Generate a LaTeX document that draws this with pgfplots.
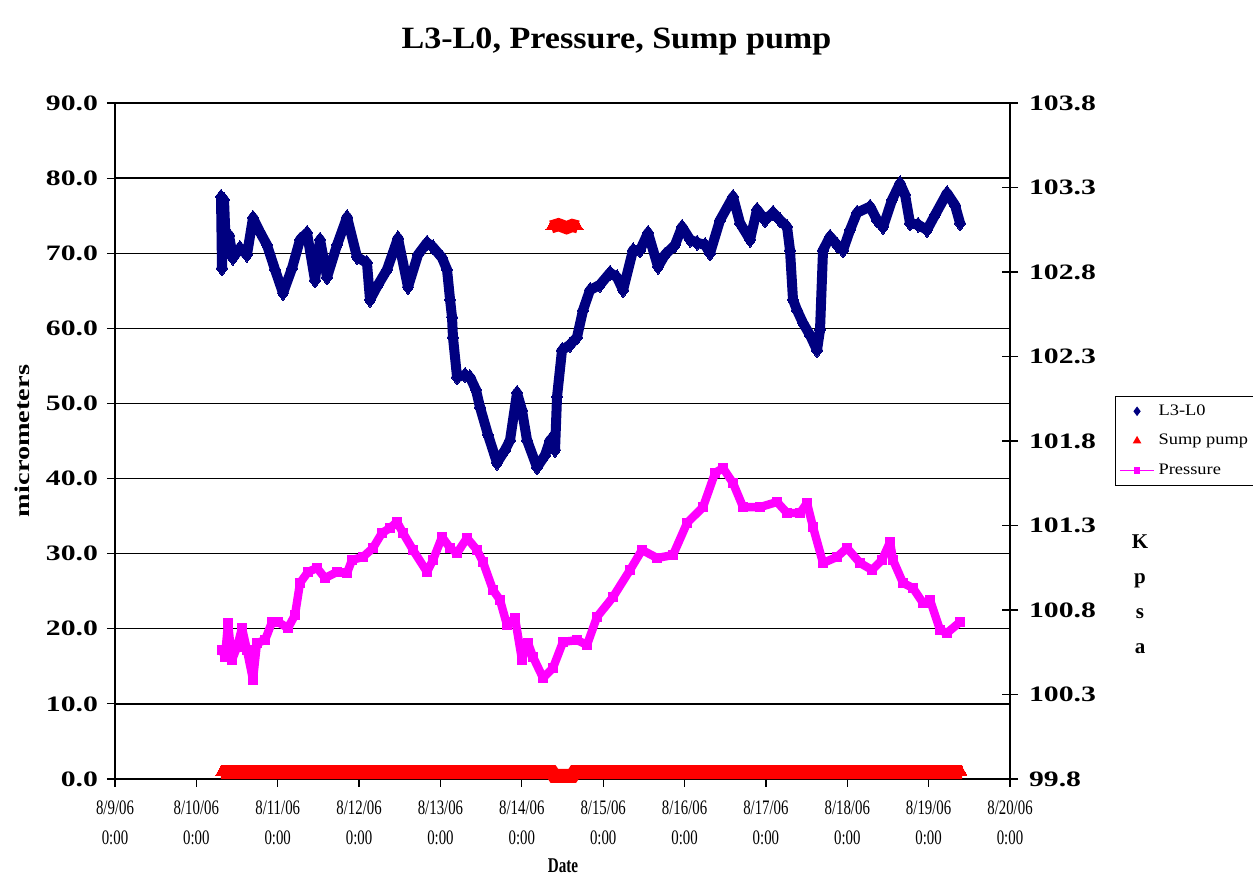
\documentclass[border=0pt]{standalone}
\usepackage{fontspec}
\setmainfont{Liberation Serif}
\newfontfamily\tickfont[FakeStretch=1.35]{Liberation Serif}
\newfontfamily\datefont[FakeStretch=0.72]{Liberation Serif}
\newfontfamily\titlefont[FakeStretch=1.1]{Liberation Serif}
\newfontfamily\legfont[FakeStretch=1.15]{Liberation Serif}
\usepackage{pgfplots}
\pgfplotsset{compat=1.18}

\definecolor{lnavy}{RGB}{0,0,128}
\definecolor{pmag}{RGB}{255,0,255}
\definecolor{sred}{RGB}{255,0,0}

% L3-L0 displacement (micrometers) vs. days since 8/9/06 0:00
\pgfplotstableread{
d v
1.303 77.5
1.315 68.0
1.340 77.1
1.364 70.4
1.401 72.4
1.450 69.4
1.536 70.7
1.622 69.8
1.696 74.7
1.782 72.8
1.868 71.1
1.967 67.8
2.065 64.7
2.176 68.0
2.274 71.8
2.360 72.7
2.458 66.4
2.520 71.8
2.606 66.8
2.729 71.1
2.852 74.8
2.974 69.5
3.097 68.7
3.134 63.8
3.233 65.8
3.343 67.8
3.478 72.0
3.601 65.5
3.724 69.8
3.835 71.4
3.909 70.8
4.019 69.4
4.081 67.8
4.118 63.8
4.142 61.5
4.154 58.8
4.204 53.5
4.302 53.8
4.363 53.5
4.437 51.8
4.486 49.5
4.585 45.8
4.695 42.1
4.794 43.8
4.855 45.1
4.941 51.4
5.002 49.1
5.064 45.1
5.187 41.5
5.285 43.1
5.347 45.1
5.408 43.8
5.433 50.9
5.494 57.1
5.592 57.8
5.678 58.8
5.752 62.4
5.838 65.1
5.961 65.8
6.084 67.4
6.170 66.8
6.244 65.1
6.367 70.4
6.453 70.4
6.551 72.7
6.674 68.2
6.760 69.8
6.883 71.1
6.969 73.5
7.068 71.8
7.154 71.4
7.252 71.1
7.313 70.0
7.436 74.4
7.596 77.5
7.682 74.0
7.805 71.8
7.891 75.8
7.989 74.4
8.088 75.4
8.174 74.4
8.260 73.5
8.296 70.4
8.333 63.8
8.383 62.4
8.456 60.7
8.542 59.1
8.628 57.1
8.665 59.8
8.702 70.4
8.788 72.2
8.874 71.1
8.948 70.4
9.034 73.1
9.120 75.4
9.280 76.2
9.366 74.4
9.440 73.5
9.550 77.1
9.648 79.3
9.710 77.8
9.771 74.0
9.870 73.8
9.980 73.1
10.079 75.1
10.226 78.0
10.324 76.4
10.386 74.0
}\levels

% Barometric pressure (kPa)
\pgfplotstableread{
d p
1.315 100.563
1.352 100.522
1.389 100.723
1.438 100.504
1.500 100.581
1.561 100.693
1.622 100.563
1.696 100.386
1.745 100.605
1.844 100.622
1.930 100.729
2.003 100.729
2.126 100.693
2.212 100.770
2.274 100.960
2.372 101.025
2.483 101.049
2.581 100.989
2.729 101.025
2.852 101.019
2.913 101.096
3.048 101.114
3.171 101.167
3.282 101.256
3.380 101.285
3.466 101.321
3.540 101.256
3.663 101.155
3.835 101.025
3.909 101.096
4.019 101.232
4.118 101.167
4.204 101.137
4.326 101.226
4.449 101.155
4.523 101.084
4.646 100.918
4.732 100.859
4.818 100.711
4.916 100.753
5.002 100.504
5.076 100.605
5.138 100.522
5.261 100.398
5.383 100.457
5.506 100.611
5.678 100.622
5.801 100.593
5.924 100.759
6.121 100.877
6.330 101.037
6.477 101.155
6.662 101.108
6.858 101.125
7.031 101.315
7.227 101.409
7.375 101.611
7.473 101.640
7.596 101.551
7.719 101.409
7.928 101.409
8.137 101.439
8.260 101.374
8.419 101.374
8.505 101.433
8.579 101.291
8.702 101.078
8.874 101.114
8.997 101.167
9.157 101.078
9.304 101.037
9.427 101.096
9.526 101.202
9.562 101.096
9.685 100.960
9.808 100.930
9.931 100.841
10.017 100.859
10.140 100.682
10.226 100.664
10.386 100.729
}\pressure

% Sump pump signal, idle level
\pgfplotstableread{
d s
1.30 0.9
1.60 0.9
1.90 0.9
2.20 0.9
2.50 0.9
2.80 0.9
3.10 0.9
3.40 0.9
3.70 0.9
4.00 0.9
4.30 0.9
4.60 0.9
4.90 0.9
5.20 0.9
5.37 0.9
5.40 0.4
5.50 0.4
5.62 0.4
5.65 0.9
5.95 0.9
6.25 0.9
6.55 0.9
6.85 0.9
7.15 0.9
7.45 0.9
7.75 0.9
8.05 0.9
8.35 0.9
8.65 0.9
8.95 0.9
9.25 0.9
9.55 0.9
9.85 0.9
10.15 0.9
10.41 0.9
}\sumpidle

% Sump pump signal while running
\pgfplotstableread{
d s
5.36 73.5
5.45 73.8
5.55 73.4
5.62 73.7
5.69 73.5
}\sumprun

\begin{document}
\begin{tikzpicture}
\useasboundingbox (-57.5pt,-48.5pt) rectangle (569pt,389.5pt);

\begin{axis}[
  at={(0pt,0pt)}, anchor=south west,
  scale only axis, width=447.5pt, height=338pt,
  xmin=0, xmax=11, ymin=0, ymax=90,
  xtick={0,1,...,11},
  xticklabels={{8/9/06\\0:00},{8/10/06\\0:00},{8/11/06\\0:00},{8/12/06\\0:00},
    {8/13/06\\0:00},{8/14/06\\0:00},{8/15/06\\0:00},{8/16/06\\0:00},
    {8/17/06\\0:00},{8/18/06\\0:00},{8/19/06\\0:00},{8/20/06\\0:00}},
  ytick={0,10,...,90},
  xtick pos=left, ytick pos=left,
  tick align=outside, major tick length=4pt,
  tick style={black, line width=0.6pt},
  axis line style={black, line width=0.6pt},
  ymajorgrids, grid style={black, line width=0.7pt},
  /pgf/number format/assume math mode=true,
  yticklabel={\pgfmathprintnumber[fixed,fixed zerofill,precision=1]{\tick}},
  y tick label style={font=\tickfont\bfseries\fontsize{11}{13}\selectfont, xshift=-1pt},
  x tick label style={font=\datefont\fontsize{10.3}{15}\selectfont, align=center, yshift=-3.5pt},
  clip=false,
]
\addplot[sred, line width=7pt, mark=triangle*, mark size=2.8pt,
  mark options={line width=0pt}] table[x=d, y=s] {\sumpidle};
\addplot[sred, line width=6.5pt, mark=triangle*, mark size=3pt,
  mark options={line width=0pt}] table[x=d, y=s] {\sumprun};
\addplot[lnavy, line width=5pt, line join=round, mark=diamond*, mark size=3.8pt,
  mark options={line width=0pt}] table[x=d, y=v] {\levels};
\end{axis}

\begin{axis}[
  at={(0pt,0pt)}, anchor=south west,
  scale only axis, width=447.5pt, height=338pt,
  xmin=0, xmax=11, ymin=99.8, ymax=103.8,
  axis x line=none, axis y line*=right,
  y axis line style={-, black, line width=0.6pt},
  ytick={99.8,100.3,100.8,101.3,101.8,102.3,102.8,103.3,103.8},
  tick align=center, major tick length=8pt,
  tick style={black, line width=0.6pt},
  /pgf/number format/assume math mode=true,
  yticklabel={\pgfmathprintnumber[fixed,fixed zerofill,precision=1]{\tick}},
  y tick label style={font=\tickfont\bfseries\fontsize{11}{13}\selectfont, xshift=2pt},
  legend style={at={(1.1173,0.5666)}, anchor=north west, draw=black,
    line width=0.5pt, font=\legfont\fontsize{8}{9.5}\selectfont,
    inner sep=2pt, row sep=4pt, cells={anchor=west}},
  legend cell align=left,
  clip=false,
]
\addlegendimage{only marks, lnavy, mark=diamond*, mark size=2pt}
\addlegendentry{L3-L0}
\addlegendimage{only marks, sred, mark=triangle*, mark size=2pt}
\addlegendentry{Sump pump}
\addlegendimage{pmag, line width=0.5pt, mark=square*, mark size=1.4pt}
\addlegendentry{Pressure}
\addplot[pmag, line width=4.2pt, line join=round, mark=square*, mark size=2.2pt,
  mark options={line width=0pt}, forget plot] table[x=d, y=p] {\pressure};
\end{axis}

\node[font=\titlefont\bfseries\fontsize{15.5}{18}\selectfont] at (250.75pt,368.5pt)
  {L3-L0, Pressure, Sump pump};
\node[font=\datefont\bfseries\fontsize{10.5}{12}\selectfont] at (224pt,-43.5pt) {Date};
\node[rotate=90, font=\tickfont\bfseries\fontsize{10.5}{12}\selectfont] at (-46.5pt,169pt)
  {micrometers};
\node[font=\bfseries\fontsize{10.5}{17.5}\selectfont, align=center] at (512.5pt,92.5pt)
  {K\\p\\s\\a};
\end{tikzpicture}
\end{document}
